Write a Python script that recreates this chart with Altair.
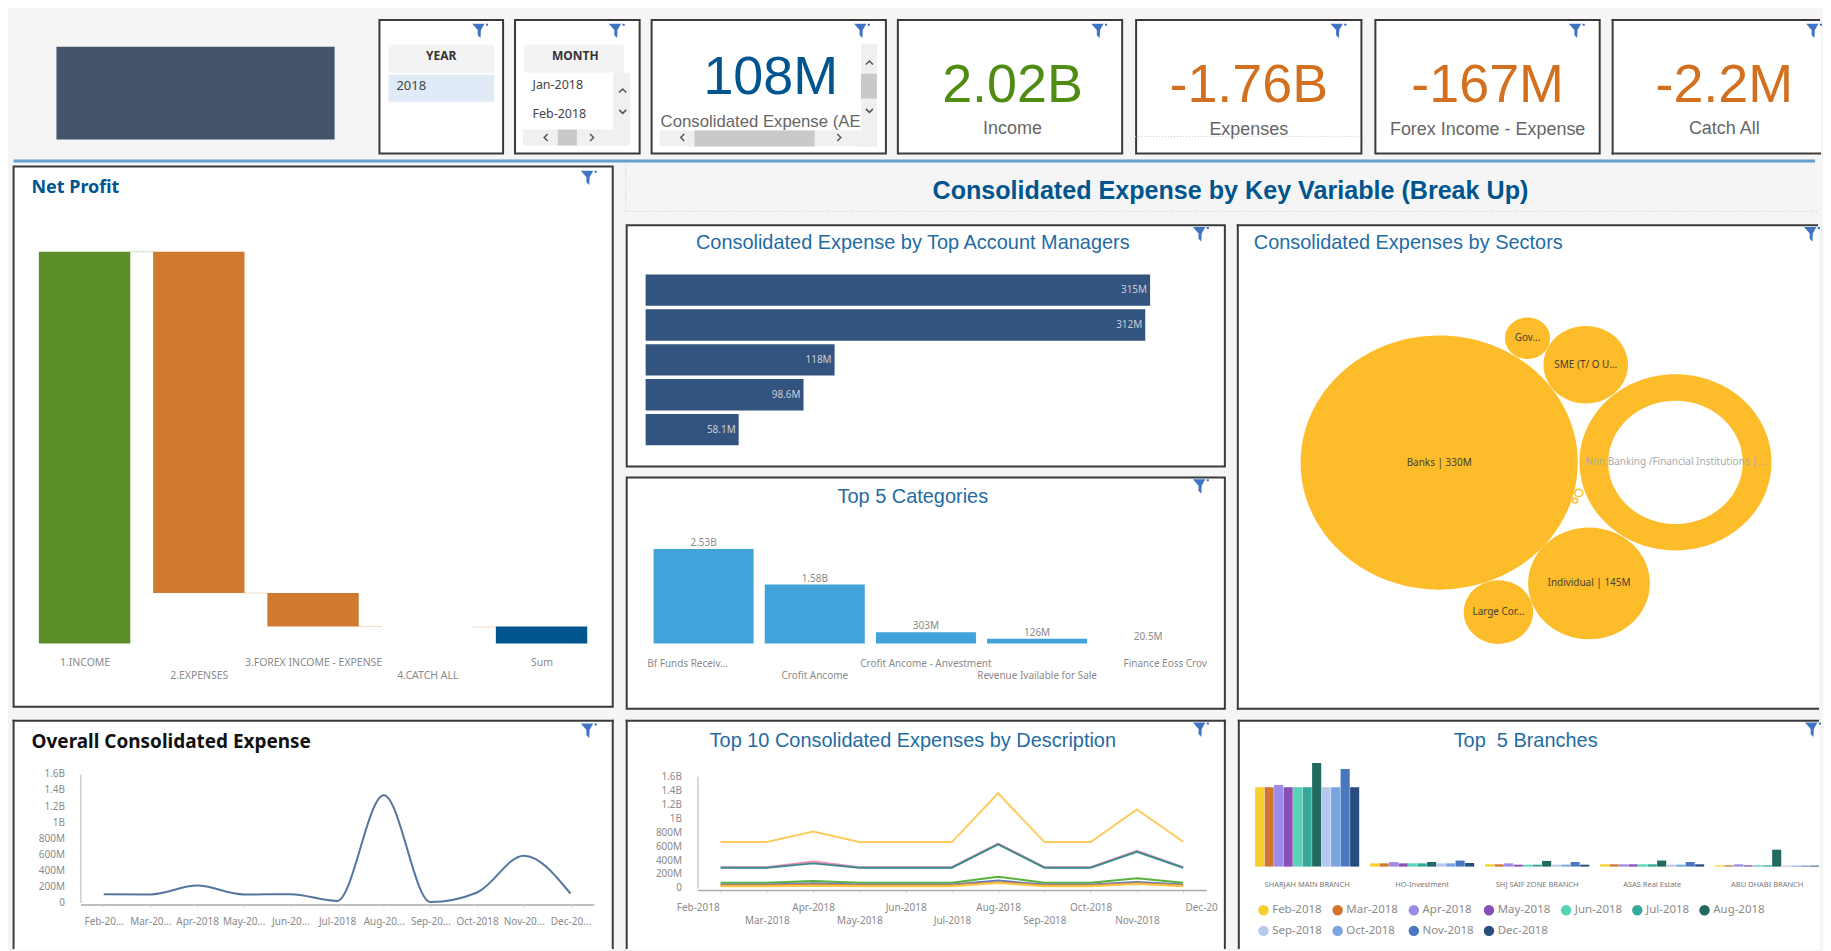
import json
import altair as alt
import pandas as pd

# ---------- data ----------
kpi_values = ["108M", "2.02B", "-1.76B", "-167M", "-2.2M"]
kpi_labels = ["Consolidated Expense (AE", "Income", "Expenses", "Forex Income - Expense", "Catch All"]

np_names = ["1.INCOME", "2.EXPENSES", "3.FOREX INCOME - EXPENSE", "4.CATCH ALL", "Sum"]
np_start = [0, 2.02, 0.26, 0.0874, 0]
np_end = [2.02, 0.26, 0.0874, 0.0852, 0.0874]
np_colors = ["#5c8e27", "#d07a30", "#d07a30", "#d07a30", "#00558e"]
np_link_colors = ["#b5d09a", "#f2c8a6", "#f2c8a6", "#f2c8a6"]

mgr_names = ["Manager A", "Manager B", "Manager C", "Manager D", "Manager E"]
mgr_values = [315, 312, 118, 98.6, 58.1]
mgr_labels = ["315M", "312M", "118M", "98.6M", "58.1M"]

cat_names = ["Bf Funds Receiv...", "Crofit Ancome", "Crofit Ancome - Anvestment", "Revenue Ivailable for Sale", "Finance Eoss Crov"]
cat_values = [2.53, 1.58, 0.303, 0.126, 0.0205]
cat_labels = ["2.53B", "1.58B", "303M", "126M", "20.5M"]

sector_names = ["Banks | 330M", "Gov...", "SME (T/ O U...", "Non Banking /Financial Institutions |...", "Individual | 145M", "Large Cor..."]
sector_x = [202, 290.6, 349, 439, 352.3, 261.4]
sector_y = [240.5, 115.8, 142.5, 240.3, 361.7, 390.5]
sector_value = [330, 53.7, 100.6, 228.6, 145, 82.6]
sector_label_colors = ["#4a4030", "#4a4030", "#4a4030", "#aaaaaa", "#4a4030", "#4a4030"]
hole_x, hole_y, hole_value = [439], [240.3], [160.2]
tiny_x, tiny_y, tiny_value = [342, 338.3], [271, 278.7], [9.5, 6]

months_short = ["Feb-20...", "Mar-20...", "Apr-2018", "May-20...", "Jun-20...", "Jul-2018", "Aug-20...", "Sep-20...", "Oct-2018", "Nov-20...", "Dec-20..."]
overall = [0.103e9, 0.10e9, 0.21e9, 0.10e9, 0.103e9, 0.02e9, 1.335e9, 0.005e9, 0.124e9, 0.583e9, 0.112e9]

months = ["Feb-2018", "Mar-2018", "Apr-2018", "May-2018", "Jun-2018", "Jul-2018", "Aug-2018", "Sep-2018", "Oct-2018", "Nov-2018", "Dec-2018"]
desc_colors = ["#fdca5c", "#ea8fb0", "#3f8a90", "#58b13c", "#5a80c8", "#e0843a", "#f6c94a"]
desc_1 = [.657, .657, .81, .657, .657, .657, 1.357, .657, .657, 1.124, .662]
desc_2 = [.298, .298, .378, .298, .298, .298, .636, .298, .298, .532, .298]
desc_3 = [.29, .29, .352, .29, .29, .29, .624, .29, .29, .519, .29]
desc_4 = [.076, .076, .10, .076, .076, .076, .162, .076, .076, .138, .076]
desc_5 = [.048, .048, .067, .048, .048, .048, .105, .048, .048, .086, .048]
desc_6 = [.038, .038, .048, .038, .038, .038, .081, .038, .038, .067, .038]
desc_7 = [.024, .024, .033, .024, .024, .024, .071, .024, .024, .057, .024]

branch_names = ["SHARJAH MAIN BRANCH", "HO-Investment", "SHJ SAIF ZONE BRANCH", "ASAS Real Estate", "ABU DHABI BRANCH"]
branch_colors = ["#f6d02f", "#d2752e", "#9c8ce8", "#8650b5", "#57d4b5", "#35a89c", "#22695f", "#b5c8ee", "#7aa3e2", "#4a78c0", "#2a4d80"]
branch_1 = [657, 657, 676, 657, 657, 657, 858, 657, 657, 808, 657]
branch_2 = [27, 27, 38, 27, 27, 27, 38, 27, 27, 50, 30]
branch_3 = [19, 19, 27, 16, 16, 16, 47, 16, 16, 38, 16]
branch_4 = [19, 19, 19, 19, 19, 19, 50, 16, 16, 38, 19]
branch_5 = [11, 11, 19, 11, 11, 11, 140, 8, 8, 8, 8]

# ---------- styling ----------
TF = "Liberation Sans"
LF = "Noto Sans"
BLUE = "#1f6ca3"
DARK = "#00558f"
EDGE = "#3a3a3a"
FRAME = {"fill": "white", "stroke": EDGE, "strokeWidth": 2}
GHOST = {"fill": "transparent", "stroke": "transparent", "strokeWidth": 2}
OPEN = {"fill": "white", "stroke": "transparent", "strokeWidth": 2}
one = pd.DataFrame({"t": [""]})
FUNNEL = "M-1,-0.9L0.55,-0.9L0.1,-0.1L0.05,0.9L-0.3,0.55L-0.3,-0.1ZM0.72,-0.9L1,-0.9L1,-0.65L0.72,-0.65Z"
ELLIPSE = "M-1,0A1,0.917,0,1,1,1,0A1,0.917,0,1,1,-1,0Z"
UP, DOWN = "M-1,0.5L0,-0.5L1,0.5", "M-1,-0.5L0,0.5L1,-0.5"
LEFT, RIGHT = "M0.5,-1L-0.5,0L0.5,1", "M-0.5,-1L0.5,0L-0.5,1"


# every helper takes coordinates measured from the outer edge of the panel's frame
def R(a, b):
    return [a - 1, b - 1]


def text(s, x, y, size, color="#666666", weight="normal", font=TF, align="center"):
    d = pd.DataFrame({"t": [s]})
    return alt.Chart(d).mark_text(fontSize=size, color=color, fontWeight=weight, font=font, align=align,
                                  baseline="middle").encode(x=alt.value(x - 1), y=alt.value(y - 1), text="t:N")


def box(x, x2, y, y2, color):
    return alt.Chart(one).mark_rect(color=color).encode(x=alt.value(x - 1), x2=alt.value(x2 - 1), y=alt.value(y - 1), y2=alt.value(y2 - 1))


def icon(x, y):
    return alt.Chart(one).mark_point(shape=FUNNEL, size=256, filled=True, opacity=1, color="#3f74c4").encode(x=alt.value(x + 1), y=alt.value(y - 1))


def chevron(shape, x, y, size=50):
    return alt.Chart(one).mark_point(shape=shape, size=size, filled=False, opacity=1, color="#555555", strokeWidth=1.5).encode(
        x=alt.value(x - 1), y=alt.value(y - 1))


def dotted(x, x2, y, y2=None):
    enc = {"x": alt.value(x - 1), "y": alt.value(y - 1)}
    if x2 is not None:
        enc["x2"] = alt.value(x2 - 1)
    if y2 is not None:
        enc["y2"] = alt.value(y2 - 1)
    return alt.Chart(one).mark_rule(color="#c8c8c8", strokeDash=[1, 2], strokeWidth=1).encode(**enc)


def panel(layers, w, h, view=FRAME):
    """w and h are the frame's outer size."""
    return alt.layer(*layers).properties(width=w - 2, height=h - 2, view=view)


def open_panel(layers, w, h, closed):
    """A panel cut off by the window: only the named sides of its frame are drawn."""
    parts = []
    parts.append(box(0, w, 0, 2, EDGE) if "top" in closed else box(0, w, 0, 1, "white"))
    parts.append(box(0, 2, 0, h, EDGE) if "left" in closed else box(0, 1, 0, h, "white"))
    parts.append(box(w - 2, w, 0, h, EDGE) if "right" in closed else box(w - 1, w, 0, h, "white"))
    parts.append(box(0, w, h - 2, h, EDGE) if "bottom" in closed else box(0, w, h - 1, h, "white"))
    return panel(parts + layers, w, h, OPEN)


def axis_x(h, at, **kw):
    base = dict(title=None, grid=False, ticks=False, domain=False, labelFont=LF, labelFontSize=10, labelColor="#8a8a8a",
                labelAngle=0, labelOverlap=False, labelFlush=False, labelBound=False, labelLimit=400,
                labelLineHeight=12, offset=at - h + 1, labelPadding=0)
    base.update(kw)
    return alt.Axis(**base)


def stagger(names):
    return "indexof(%s, datum.label) %% 2 == 1 ? ['', datum.label] : datum.label" % json.dumps(names)


def H_(*c, spacing):
    return alt.hconcat(*c, spacing=spacing).resolve_scale(color="independent", size="independent").resolve_legend(color="independent", size="independent")


def V_(*c, spacing):
    return alt.vconcat(*c, spacing=spacing).resolve_scale(color="independent", size="independent").resolve_legend(color="independent", size="independent")


# ---------- top row ----------
H1 = 136
logo = panel([box(44, 323, 28, 121, "#44546a")], 357, H1, GHOST)
year = panel([
    box(10, 116, 26, 54, "#f3f3f3"), box(10, 116, 56, 83, "#e1ebf7"),
    text("YEAR", 63, 37, 12, "#333333", "bold", LF), text("2018", 18, 67, 13, "#444444", "normal", LF, "left"),
    icon(100, 12)], 126, H1)
month = panel([
    box(10, 110, 26, 54, "#f3f3f3"), box(99.5, 116.5, 54, 111, "#f0f0f0"), box(9, 116.5, 111, 127, "#f0f0f0"),
    box(44, 63, 111, 127, "#c9c9c9"),
    text("MONTH", 61.5, 37, 12, "#333333", "bold", LF),
    text("Jan-2018", 18.5, 66, 12.5, "#444444", "normal", LF, "left"),
    text("Feb-2018", 18.5, 95.5, 12.5, "#444444", "normal", LF, "left"),
    chevron(UP, 109, 72), chevron(DOWN, 109, 93), chevron(LEFT, 32, 119), chevron(RIGHT, 78, 119),
    icon(101, 12)], 127, H1)


def kpi_layers(i, color, w, cx, vy, ly, extras=()):
    return list(extras) + [text(kpi_values[i], cx, vy, 54, color), text(kpi_labels[i], cx, ly, 18), icon(w - 26, 12)]


kpi0 = panel([
    box(211, 227, 25, 128, "#f0f0f0"), box(9, 227, 112, 128, "#f0f0f0"),
    box(211, 227, 55, 80, "#c9c9c9"), box(44, 164.5, 112, 128, "#c9c9c9"),
    text(kpi_values[0], 120.5, 59.5, 54, "#00558f"),
    text(kpi_labels[0], 10, 103, 16.8, "#666666", "normal", TF, "left"),
    chevron(UP, 219.5, 44), chevron(DOWN, 219.5, 92), chevron(LEFT, 32, 119), chevron(RIGHT, 189, 119),
    icon(210, 12)], 237, H1)
kpi1 = panel(kpi_layers(1, "#4e8c12", 227, 116, 67, 110.5), 227, H1)
kpi2 = panel(kpi_layers(2, "#d2701f", 228, 114, 67, 111.5, [dotted(0, 228, 118)]), 228, H1)
kpi3 = panel(kpi_layers(3, "#d2701f", 227, 113.6, 67, 111), 227, H1)
kpi4 = open_panel([text(kpi_values[4], 113, 67, 54, "#d2701f"), text(kpi_labels[4], 113, 110, 18), icon(201, 12)],
                  210, H1, ("top", "left", "bottom"))
row1 = H_(logo, year, month, kpi0, kpi1, kpi2, kpi3, kpi4, spacing=10)
line = panel([box(1, 1808, 1, 4, "#62a0cd")], 1809, 5, GHOST)

# ---------- net profit ----------
W, H = 603, 544
np_df = pd.DataFrame({"name": np_names, "left": [i - 0.4 for i in range(5)], "right": [i + 0.4 for i in range(5)],
                      "start": np_start, "end": np_end, "c": np_colors})
x_np = alt.Scale(domain=[-0.5, 4.5], range=R(14.9, 587.9))
y_np = alt.Scale(domain=[0, 2.02], range=R(479.5, 86.5), nice=False, zero=False)
lab_np = "(%s)[datum.value]" % json.dumps(np_names)
expr_np = "datum.value % 2 == 1 ? ['', " + lab_np + "] : " + lab_np
bars_np = alt.Chart(np_df).transform_filter("abs(datum.start - datum.end) > 0.01").mark_rect().encode(
    x=alt.X("left:Q", scale=x_np, axis=axis_x(H - 2, 492, values=[0, 1, 2, 3, 4], labelExpr=expr_np, labelFontSize=10.5, labelLineHeight=13)),
    x2="right:Q",
    y=alt.Y("start:Q", scale=y_np, axis=None), y2="end:Q",
    color=alt.Color("c:N", scale=None))
link_df = pd.DataFrame({"a": [i + 0.4 for i in range(4)], "b": [i + 0.6 for i in range(4)],
                        "v": [np_end[0], np_end[1], np_end[2], np_end[3]], "c": np_link_colors})
links = alt.Chart(link_df).mark_rule(strokeDash=[2, 1], strokeWidth=1).encode(
    x=alt.X("a:Q", scale=x_np), x2="b:Q", y=alt.Y("v:Q", scale=y_np), color=alt.Color("c:N", scale=None))
net = panel([bars_np, links, text("Net Profit", 19, 22.5, 18, DARK, "bold", LF, "left"), icon(576, 12.5)], W, H)

# ---------- header ----------
header = panel([text("Consolidated Expense by Key Variable (Break Up)", 606.6, 26, 25.2, DARK, "bold"),
                dotted(0, 1196, 46), dotted(0, None, 0, 46)], 1196, 47, GHOST)

# ---------- managers ----------
W2, H2 = 602, 244
mgr_df = pd.DataFrame({"n": mgr_names, "v": mgr_values, "l": mgr_labels})
x_mgr = alt.Scale(domain=[0, 315], range=R(20, 526), nice=False)
y_mgr = alt.Scale(domain=mgr_names, range=R(48.5, 223.5), paddingInner=0.1, paddingOuter=0.05)
bar_mgr = alt.Chart(mgr_df).mark_bar(color="#33547f").encode(
    x=alt.X("v:Q", scale=x_mgr, axis=None), y=alt.Y("n:N", scale=y_mgr, axis=None))
txt_mgr = alt.Chart(mgr_df).mark_text(align="right", dx=-3, font=LF, fontSize=10, color="#c8ced8").encode(
    x=alt.X("v:Q", scale=x_mgr), y=alt.Y("n:N", scale=y_mgr), text="l:N")
mgr = panel([bar_mgr, txt_mgr, text("Consolidated Expense by Top Account Managers", 288, 19, 20, BLUE), icon(575, 10)], W2, H2)

# ---------- categories ----------
H3 = 234
cat_df = pd.DataFrame({"n": cat_names, "v": cat_values, "l": cat_labels})
x_cat = alt.Scale(domain=cat_names, range=R(22.4, 579.9), paddingInner=0.1, paddingOuter=0.05)
y_cat = alt.Scale(domain=[0, 2.53], range=R(167.5, 72.8), nice=False)
offs = {"condition": [{"test": "datum.label == '%s'" % cat_names[0], "value": -16},
                      {"test": "datum.label == '%s'" % cat_names[4], "value": 17}], "value": 0}
bar_cat = alt.Chart(cat_df).transform_filter("datum.v > 0.05").mark_bar(color="#41a3d9").encode(
    x=alt.X("n:N", sort=cat_names, scale=x_cat,
            axis=axis_x(H3 - 2, 181, labelExpr=stagger(cat_names), labelOffset=offs)),
    y=alt.Y("v:Q", scale=y_cat, axis=None))
txt_cat = alt.Chart(cat_df).mark_text(dy=-6, font=LF, fontSize=10, color="#8a8a8a", baseline="middle").encode(
    x=alt.X("n:N", sort=cat_names, scale=x_cat), y=alt.Y("v:Q", scale=y_cat), text="l:N")
cat = panel([bar_cat, txt_cat, text("Top 5 Categories", 288, 20.7, 20, BLUE), icon(575, 10)], W2, H3)

# ---------- sectors ----------
H4 = 487
x_sec = alt.Scale(domain=[0, 602], range=R(1, 603), nice=False, zero=False)
y_sec = alt.Scale(domain=[0, 487], range=R(-1.5, 485.5), nice=False, zero=False)
s_sec = alt.Scale(type="pow", exponent=2, domain=[0, 330], range=[0, 77284])
sec_df = pd.DataFrame({"n": sector_names, "x": sector_x, "y": sector_y, "v": sector_value, "lc": sector_label_colors})
hole_df = pd.DataFrame({"x": hole_x, "y": hole_y, "v": hole_value})
tiny_df = pd.DataFrame({"x": tiny_x, "y": tiny_y, "v": tiny_value})
enc_sec = dict(x=alt.X("x:Q", scale=x_sec, axis=None), y=alt.Y("y:Q", scale=y_sec, axis=None),
               size=alt.Size("v:Q", scale=s_sec, legend=None))
b1 = alt.Chart(sec_df).mark_point(shape=ELLIPSE, filled=True, opacity=1, color="#fdbc2a").encode(**enc_sec)
b2 = alt.Chart(hole_df).mark_point(shape=ELLIPSE, filled=True, opacity=1, color="white").encode(**enc_sec)
b3 = alt.Chart(tiny_df).mark_point(shape=ELLIPSE, opacity=1, fill="white", stroke="#fdbc2a", strokeWidth=1.5).encode(**enc_sec)
t_sec = alt.Chart(sec_df).mark_text(font=LF, fontSize=10, baseline="middle").encode(
    x=alt.X("x:Q", scale=x_sec), y=alt.Y("y:Q", scale=y_sec), text="n:N", color=alt.Color("lc:N", scale=None))
sec = open_panel([b1, b2, b3, t_sec, text("Consolidated Expenses by Sectors", 17, 18.8, 20, BLUE, "normal", TF, "left"), icon(575, 10)],
                 584, H4, ("top", "left", "bottom"))

# ---------- overall ----------
H5 = 231
num_expr = "datum.value >= 1e9 ? format(datum.value / 1e9, '.2~f') + 'B' : datum.value > 0 ? format(datum.value / 1e6, 'd') + 'M' : '0'"
ticks_y = [i * 2e8 for i in range(9)]
ov_df = pd.DataFrame({"m": months_short, "v": overall})
x_ov = alt.Scale(type="point", padding=0.5, domain=months_short, range=R(68, 583))
y_ov = alt.Scale(domain=[0, 1.6e9], range=R(183.3, 54.3), nice=False)
ov_line = alt.Chart(ov_df).mark_line(color="#53769f", strokeWidth=2, interpolate="monotone").encode(
    x=alt.X("m:N", sort=months_short, scale=x_ov,
            axis=axis_x(H5 - 2, 183.3, domain=True, domainColor="#aaaaaa", domainWidth=1.5, ticks=True, tickColor="#dddddd", tickSize=3, labelPadding=9)),
    y=alt.Y("v:Q", scale=y_ov, axis=alt.Axis(title=None, grid=False, ticks=False, domain=True, domainColor="#cccccc", domainWidth=1.5,
                                             values=ticks_y, labelExpr=num_expr, labelFont=LF, labelFontSize=10, labelColor="#8a8a8a",
                                             labelPadding=16, offset=-67)))
ov = open_panel([ov_line, text("Overall Consolidated Expense", 19, 22, 19, "#111111", "bold", LF, "left"), icon(576, 11)],
                W, H5, ("top", "left", "right"))

# ---------- description ----------
rows = []
for col, vals in zip(desc_colors, [desc_1, desc_2, desc_3, desc_4, desc_5, desc_6, desc_7]):
    for m, v in zip(months, vals):
        rows.append({"m": m, "s": col, "v": v * 1e9})
desc_df = pd.DataFrame(rows)
x_d = alt.Scale(type="point", padding=0.5, domain=months, range=R(72, 582.4))
y_d = alt.Scale(domain=[0, 1.6e9], range=R(168.7, 56.7), nice=False)
offs2 = {"condition": [{"test": "datum.label == 'Feb-2018'", "value": -23},
                       {"test": "datum.label == 'Dec-2018'", "value": 18}], "value": 0}
d_line = alt.Chart(desc_df).mark_line(strokeWidth=2).encode(
    x=alt.X("m:N", sort=months, scale=x_d,
            axis=axis_x(H5 - 2, 168.7, domain=True, domainColor="#aaaaaa", domainWidth=1.5, ticks=True, tickColor="#dddddd", tickSize=3,
                        labelPadding=10, labelLineHeight=13, labelOffset=offs2,
                        labelExpr="datum.label == 'Dec-2018' ? 'Dec-20' : (indexof(%s, datum.label) %% 2 == 1 ? ['', datum.label] : datum.label)" % json.dumps(months))),
    y=alt.Y("v:Q", scale=y_d, axis=alt.Axis(title=None, grid=False, ticks=False, domain=True, domainColor="#cccccc", domainWidth=1.5,
                                            values=ticks_y, labelExpr=num_expr, labelFont=LF, labelFontSize=10, labelColor="#8a8a8a",
                                            labelPadding=16, offset=-71)),
    color=alt.Color("s:N", scale=None), detail="s:N")
desc = open_panel([d_line, text("Top 10 Consolidated Expenses by Description", 288, 21.5, 20, BLUE), icon(575, 10)],
                  W2, H5, ("top", "left", "right"))

# ---------- branches ----------
rows = []
for b, vals in zip(branch_names, [branch_1, branch_2, branch_3, branch_4, branch_5]):
    for m, v in zip(months, vals):
        rows.append({"b": b, "m": m, "v": v})
br_df = pd.DataFrame(rows)
br = alt.Chart(br_df).mark_bar().encode(
    x=alt.X("b:N", sort=branch_names, scale=alt.Scale(domain=branch_names, range=R(11.6, 589), paddingInner=0.095, paddingOuter=0.05),
            axis=axis_x(H5 - 2, 159, labelFontSize=7.5, labelColor="#777777")),
    xOffset=alt.XOffset("m:N", sort=months, scale=alt.Scale(domain=months, paddingInner=0.04)),
    y=alt.Y("v:Q", scale=alt.Scale(domain=[0, 858], range=R(147.3, 43.3), nice=False), axis=None),
    color=alt.Color("m:N", sort=months, scale=alt.Scale(domain=months, range=branch_colors),
                    legend=alt.Legend(orient="none", direction="horizontal", legendX=19, legendY=184, columns=7, title=None, symbolType="circle",
                                      symbolSize=110, symbolStrokeWidth=0, labelFont=LF, labelFontSize=11.5, labelColor="#8a8a8a",
                                      labelOffset=3, columnPadding=9.4, rowPadding=8)))
brp = open_panel([br, text("Top\u00a0\u00a05 Branches", 288.7, 21.3, 20, BLUE), icon(575, 10)], 584, H5, ("top", "left"))

# ---------- page ----------
mid = V_(mgr, cat, spacing=9)
lower = H_(mid, sec, spacing=10)
right = V_(header, lower, spacing=10)
top = H_(net, right, spacing=10)
bottom = H_(ov, desc, brp, spacing=10)
head = V_(row1, line, spacing=3)
upper = V_(head, top, spacing=0)
chart = V_(upper, bottom, spacing=8).properties(
    padding={"left": 3.6, "top": 8.5, "right": 0, "bottom": 0}, background="#f5f5f5"
).configure_view(stroke="transparent")

chart.save("out.html", embed_options={"renderer": "svg", "actions": False})
